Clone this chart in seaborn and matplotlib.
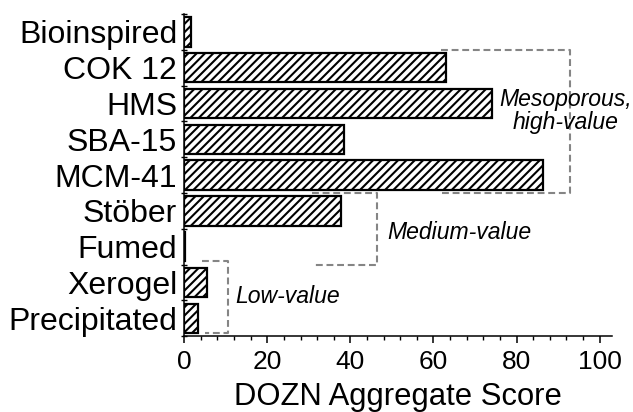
import numpy as np
import pandas as pd
import seaborn as sns
import matplotlib.pyplot as plt
from matplotlib.ticker import MultipleLocator

# silica types and their DOZN aggregate scores
materials = ["Bioinspired", "COK 12", "HMS", "SBA-15", "MCM-41",
             "Stöber", "Fumed", "Xerogel", "Precipitated"]
scores = [1.6, 62.9, 74.2, 38.5, 86.4, 37.8, 0.3, 5.5, 3.3]

df = pd.DataFrame({"material": materials, "score": scores})

sns.set_style("ticks")
plt.rcParams["font.family"] = ["Liberation Sans", "DejaVu Sans"]
plt.rcParams["hatch.linewidth"] = 1.5
for k in ["text.color", "axes.labelcolor", "xtick.color", "ytick.color", "axes.edgecolor"]:
    plt.rcParams[k] = "black"

fig = plt.figure(figsize=(6.33, 4.12), dpi=100)
ax = fig.add_axes([0.291, 0.184, 0.676, 0.782])

sns.barplot(data=df, x="score", y="material", orient="h", color="white",
            edgecolor="black", linewidth=1.6, width=0.82, ax=ax)
for p in ax.patches:
    p.set_hatch("////")

# dashed group brackets
gray = "#858585"
kw = dict(color=gray, ls=(0, (3.3, 1.8)), lw=1.5, clip_on=False)
ax.plot([61.8, 92.8, 92.8, 61.8], [0.5, 0.5, 4.5, 4.5], **kw)
ax.plot([30.8, 46.3, 46.3, 31.6], [4.5, 4.5, 6.5, 6.5], **kw)
ax.plot([4.3, 10.5, 10.5, 5.0], [6.4, 6.4, 8.4, 8.4], **kw)

ax.text(91.8, 2.2, "Mesoporous,\nhigh-value", style="italic", fontsize=16.6,
        ha="center", va="center", linespacing=1.0)
ax.text(66.3, 5.6, "Medium-value", style="italic", fontsize=16.6,
        ha="center", va="center")
ax.text(12.4, 7.4, "Low-value", style="italic", fontsize=16.6,
        ha="left", va="center")

ax.set_xlim(0, 103)
ax.set_ylim(8.5, -0.5)
ax.set_xticks([0, 20, 40, 60, 80, 100])
ax.xaxis.set_minor_locator(MultipleLocator(4))
ax.set_yticks(range(len(materials)), materials)
ax.set_yticks(np.arange(-0.5, len(materials)), minor=True)

ax.tick_params(axis="x", labelsize=19, direction="out", length=5, width=1.1, pad=5)
ax.tick_params(axis="x", which="minor", direction="out", length=3, width=1.0)
ax.tick_params(axis="y", which="major", length=0, labelsize=23, pad=5)
ax.tick_params(axis="y", which="minor", direction="inout", length=5, width=1.0)

ax.set_xlabel("DOZN Aggregate Score", fontsize=22.3, labelpad=6)
ax.set_ylabel("")
sns.despine(ax=ax)
for s in ["left", "bottom"]:
    ax.spines[s].set_linewidth(1.1)

fig.savefig("out.png", dpi=100)
